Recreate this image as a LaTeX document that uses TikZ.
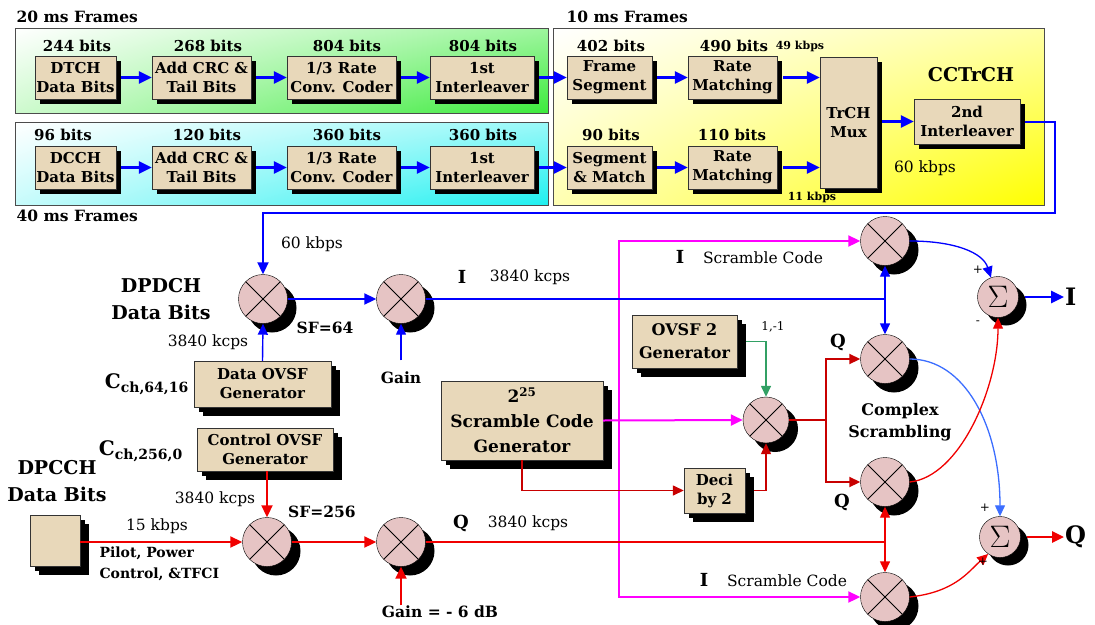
\documentclass[tikz,border=0pt]{standalone}
\usepackage{fontspec}
\setmainfont{DejaVu Serif}
\usetikzlibrary{arrows.meta,shadows,shadings}

\definecolor{parch}{RGB}{232,216,186}
\definecolor{pinkm}{RGB}{230,196,196}
\definecolor{bluel}{RGB}{0,0,255}
\definecolor{magl}{RGB}{255,0,255}
\definecolor{redl}{RGB}{240,0,0}
\definecolor{darkred}{RGB}{200,0,0}
\definecolor{greenl}{RGB}{50,160,100}
\definecolor{skyl}{RGB}{60,110,255}
\definecolor{framegreen}{RGB}{60,235,60}
\definecolor{framecyan}{RGB}{30,240,240}
\definecolor{frameyel}{RGB}{255,255,0}

\tikzset{
  shd/.style={drop shadow={shadow xshift=#1,shadow yshift=-#1,fill=black,opacity=1}},
  shd/.default=5pt,
  frame/.style={draw=black!70,line width=0.8pt,upper left=white},
  blk/.style={draw=black!80,fill=parch,shd,align=center,inner sep=1pt,minimum height=43pt,
    font=\bfseries\fontsize{15}{19}\selectfont},
  mult/.style={circle,draw,fill=pinkm,minimum size=49pt,inner sep=0pt,shd=9pt,
    path picture={\draw[line width=1pt] (path picture bounding box.north west) -- (path picture bounding box.south east)
      (path picture bounding box.north east) -- (path picture bounding box.south west);}},
  sumc/.style={circle,draw,fill=pinkm,minimum size=41pt,inner sep=0pt,shd=8pt,font=\fontsize{20}{20}\selectfont},
  hd/.style={font=\bfseries\fontsize{15.5}{18}\selectfont},
  bits/.style={font=\bfseries\fontsize{15}{18}\selectfont},
  bigl/.style={font=\bfseries\fontsize{19}{27}\selectfont,align=center},
  ilab/.style={font=\bfseries\fontsize{18}{18}\selectfont},
  ratel/.style={font=\fontsize{15.5}{18}\selectfont},
  kbps/.style={font=\bfseries\fontsize{11}{13}\selectfont},
  pm/.style={font=\fontsize{12}{12}\selectfont,inner sep=1pt},
  bline/.style={draw=bluel,line width=2.8pt,-{Triangle[length=13pt,width=12pt]}},
  bret/.style={draw=bluel,line width=2pt,-{Triangle[length=12pt,width=11pt]}},
  bthin/.style={draw=bluel,line width=2pt},
  barr/.style={draw=bluel,line width=1.4pt,-{Triangle[length=11pt,width=10pt]}},
  rline/.style={draw=redl,line width=2pt,-{Triangle[length=12pt,width=11pt]}},
  qline/.style={draw=redl,line width=1.3pt},
  qarr/.style={draw=redl,line width=1.4pt,-{Triangle[length=11pt,width=10pt]}},
  drl/.style={draw=darkred,line width=1.4pt,-{Triangle[length=11pt,width=10pt]}},
  mline/.style={draw=magl,line width=2pt,-{Triangle[length=12pt,width=11pt]}},
  gline/.style={draw=greenl,line width=1.5pt,-{Triangle[length=11pt,width=10pt]}},
  curv/.style={line width=1.3pt,-{Triangle[length=11pt,width=10pt]}}
}

\begin{document}
\begin{tikzpicture}[x=1pt,y=-1pt]
\useasboundingbox (0,0) rectangle (1095,624);

\shadedraw[frame,upper right=framegreen!50!white,lower left=framegreen!25!white,lower right=framegreen] (15,28) rectangle (548,113);
\shadedraw[frame,upper right=framecyan!45!white,lower left=framecyan!25!white,lower right=framecyan] (15,122) rectangle (548,205);
\shadedraw[frame,upper right=frameyel!35!white,lower left=frameyel!30!white,lower right=frameyel] (553,28) rectangle (1044,205);

\draw (13,17) node[hd,anchor=west](t20) {20 ms Frames};
\draw (563,17) node[hd,anchor=west](t10) {10 ms Frames};
\draw (13,216) node[hd,anchor=west](t40) {40 ms Frames};

\draw (75.5,77.5) node[blk,minimum width=81pt](dtch) {DTCH\\Data Bits};
\draw (201.5,77.5) node[blk,minimum width=99pt](crc1) {Add CRC \&\\Tail Bits};
\draw (341.5,77.5) node[blk,minimum width=109pt](conv1) {1/3 Rate\\Conv. Coder};
\draw (482,77.5) node[blk,minimum width=104pt](il1) {1st\\Interleaver};
\draw (609.5,77.5) node[blk,minimum width=85pt](fseg) {Frame\\Segment};
\draw (732.5,77.5) node[blk,minimum width=89pt](rm1) {Rate\\Matching};

\draw (75.5,167.5) node[blk,minimum width=81pt](dcch) {DCCH\\Data Bits};
\draw (201.5,167.5) node[blk,minimum width=99pt](crc2) {Add CRC \&\\Tail Bits};
\draw (341.5,167.5) node[blk,minimum width=109pt](conv2) {1/3 Rate\\Conv. Coder};
\draw (482,167.5) node[blk,minimum width=104pt](il3) {1st\\Interleaver};
\draw (609.5,167.5) node[blk,minimum width=85pt](smatch) {Segment\\\& Match};
\draw (732.5,167.5) node[blk,minimum width=89pt](rm2) {Rate\\Matching};

\draw (848.5,122.5) node[blk,minimum width=57pt,minimum height=131pt](mux) {TrCH\\Mux};
\draw (967,121.5) node[blk,minimum width=106pt,minimum height=45pt](il2) {2nd\\Interleaver};

\draw (77,46) node[bits](b1) {244 bits};
\draw (208,46) node[bits](b2) {268 bits};
\draw (347,46) node[bits](b3) {804 bits};
\draw (483,46) node[bits](b4) {804 bits};
\draw (611,46) node[bits](b5) {402 bits};
\draw (734,46) node[bits](b6) {490 bits};
\draw (63,135) node[bits](b7) {96 bits};
\draw (207,135) node[bits](b8) {120 bits};
\draw (347,135) node[bits](b9) {360 bits};
\draw (483,135) node[bits](b10) {360 bits};
\draw (611,135) node[bits](b11) {90 bits};
\draw (732,135) node[bits](b12) {110 bits};
\draw (800,46) node[kbps](k49) {49 kbps};
\draw (812,197) node[kbps](k11) {11 kbps};
\draw (971,75) node[bigl](cctrch) {CCTrCH};
\draw (925,168) node[ratel](k60a) {60 kbps};

\draw[bline] ([xshift=5pt]dtch.east) -- (crc1.west);
\draw[bline] ([xshift=5pt]crc1.east) -- (conv1.west);
\draw[bline] ([xshift=5pt]conv1.east) -- (il1.west);
\draw[bline] ([xshift=5pt]il1.east) -- (fseg.west);
\draw[bline] ([xshift=5pt]fseg.east) -- (rm1.west);
\draw[bline] ([xshift=6pt]rm1.east) -- (rm1.east -| mux.west);
\draw[bline] ([xshift=5pt]dcch.east) -- (crc2.west);
\draw[bline] ([xshift=5pt]crc2.east) -- (conv2.west);
\draw[bline] ([xshift=5pt]conv2.east) -- (il3.west);
\draw[bline] ([xshift=5pt]il3.east) -- (smatch.west);
\draw[bline] ([xshift=5pt]smatch.east) -- (rm2.west);
\draw[bline] ([xshift=6pt]rm2.east) -- (rm2.east -| mux.west);
\draw[bline] ([xshift=5pt]mux.east |- il2.west) -- (il2.west);

\draw (263,299) node[mult](m1) {};
\draw (401,299) node[mult](g1) {};
\draw (262.5,384) node[blk,shd=9pt,minimum width=137pt,minimum height=46pt](dovsf) {Data OVSF\\Generator};
\coordinate (ret) at (1055,213);
\draw[bret] ([xshift=5pt]il2.east) -| (ret) -| (m1.north);
\draw[barr] (dovsf.north) -- (m1.south);
\draw[bret] (m1.east) -- (g1.west);
\draw (401,378) node[hd](gn1) {Gain};
\draw[barr] ([yshift=8pt]gn1.north) -- (g1.south);

\draw (161,299.5) node[bigl](dpdch) {DPDCH\\Data Bits};
\draw (312,244) node[ratel](k60b) {60 kbps};
\draw (325,328) node[hd](sf64) {SF=64};
\draw (208,342) node[ratel](kc1) {3840 kcps};
\draw (190,384) node[anchor=east,font=\bfseries\fontsize{20}{20}\selectfont,inner sep=1pt](cch1) {C\textsubscript{ch,64,16}};

\draw (265,449.5) node[blk,shd=9pt,minimum width=136pt](covsf) {Control OVSF\\Generator};
\draw (267,542) node[mult](c1) {};
\draw (401,542) node[mult](g2) {};
\draw (55,540.5) node[blk,shd=9pt,minimum width=50pt,minimum height=51pt](dpcch) {};
\draw[rline] (covsf.south -| c1) -- (c1.north);
\draw[rline] (dpcch.east |- c1.west) -- (c1.west);
\draw[rline] (c1.east) -- (g2.west);
\draw (440,612) node[hd](gn2) {Gain = - 6 dB};
\draw[rline] ([yshift=-3pt]g2 |- gn2.north) -- (g2.south);

\draw (57,481.5) node[bigl](dpcchl) {DPCCH\\Data Bits};
\draw (184,451) node[anchor=east,font=\bfseries\fontsize{20}{20}\selectfont,inner sep=1pt](cch2) {C\textsubscript{ch,256,0}};
\draw (215,499) node[ratel](kc2) {3840 kcps};
\draw (157,526) node[ratel](k15) {15 kbps};
\draw (322,512) node[hd](sf256) {SF=256};
\draw (96,563.5) node[anchor=west,align=left,font=\bfseries\fontsize{14}{21}\selectfont](pilot) {Pilot, Power\\Control, \&TFCI};

\draw (522,420.5) node[blk,shd=9pt,minimum width=162pt,minimum height=79pt,font=\bfseries\fontsize{17}{25}\selectfont](scg) {2\textsuperscript{25}\\Scramble Code\\Generator};
\draw (684.5,341.5) node[blk,shd=9pt,minimum width=105pt,minimum height=53pt,font=\bfseries\fontsize{16}{23}\selectfont](ovsf2) {OVSF 2\\Generator};
\draw (714.5,490.5) node[blk,shd=9pt,minimum width=61pt,minimum height=45pt](deci) {Deci\\by 2};
\draw (766,420) node[mult,minimum size=46pt](sm) {};

\draw (885,241) node[mult](ti) {};
\draw (885,359) node[mult](tq) {};
\draw (885,482) node[mult](qq) {};
\draw (885,597) node[mult](bi) {};
\draw (998,297) node[sumc](s1) {\scalebox{1.5}{$\Sigma$}};
\draw (1000,537) node[sumc](s2) {\scalebox{1.5}{$\Sigma$}};

\coordinate (mj) at (619,420);
\draw[mline] (scg.east) -- (sm.west);
\draw[mline,{Triangle[length=12pt,width=11pt]}-{Triangle[length=12pt,width=11pt]}] (ti.west) -| (mj) |- (bi.west);

\draw[drl] (scg.south) |- (deci.west);
\draw[drl] ([xshift=9pt]deci.east) -| (sm.south);
\draw[gline] ([xshift=9pt]ovsf2.east) -| (sm.north);
\coordinate (sj) at (826,420);
\draw[darkred,line width=1.8pt] (sm.east) -- (sj);
\draw[drl,line width=1.8pt] (sj) |- (tq.west);
\draw[drl,line width=1.8pt] (sj) |- (qq.west);

\coordinate (ib) at (885,299);
\draw[bthin] (g1.east) -- (ib);
\draw[barr] (ib) -- (ti.south);
\draw[barr] (ib) -- (tq.north);
\coordinate (qb) at (885,542);
\draw[qline] (g2.east) -- (qb);
\draw[qarr] (qb) -- (qq.south);
\draw[qarr] (qb) -- (bi.north);

\draw[curv,bluel] (ti.east) .. controls +(45,0) and +(-8,-25) .. (s1.110);
\draw[curv,skyl] (tq.east) .. controls +(55,0) and +(0,-90) .. (s2.north);
\draw[curv,redl] (qq.east) .. controls +(50,-5) and +(0,70) .. (s1.south);
\draw[curv,redl] (bi.east) .. controls +(45,-5) and +(-20,18) .. (s2.235);

\draw (1064,297) node[anchor=west,inner sep=1pt,font=\bfseries\fontsize{24}{24}\selectfont](oi) {I};
\draw (1064,537) node[anchor=west,inner sep=1pt,font=\bfseries\fontsize{24}{24}\selectfont](oq) {Q};
\draw[bline] ([xshift=6pt]s1.east) -- (oi.west);
\draw[rline,line width=2.8pt] ([xshift=6pt]s2.east) -- (oq.west);

\draw (978,270) node[pm](p1) {+};
\draw (978,323) node[pm](n1) {-};
\draw (985,508) node[pm](p2) {+};
\draw (983,562) node[pm](p3) {+};

\draw (462,277) node[ilab](il) {I};
\draw (530,277) node[ratel](kc3) {3840 kcps};
\draw (461,523) node[ilab](ql) {Q};
\draw (528,523) node[ratel](kc4) {3840 kcps};
\draw (680,257) node[ilab](isc1) {I};
\draw (763,258) node[ratel](sc1) {Scramble Code};
\draw (704,580) node[ilab](isc2) {I};
\draw (787,581) node[ratel](sc2) {Scramble Code};
\draw (838,342) node[ilab](qa) {Q};
\draw (842,502) node[ilab](qc) {Q};
\draw (900,422) node[bigl,font=\bfseries\fontsize{16}{22}\selectfont](cplx) {Complex\\Scrambling};
\draw (773,327) node[font=\fontsize{12}{12}\selectfont](pm1) {1,-1};
\end{tikzpicture}
\end{document}
